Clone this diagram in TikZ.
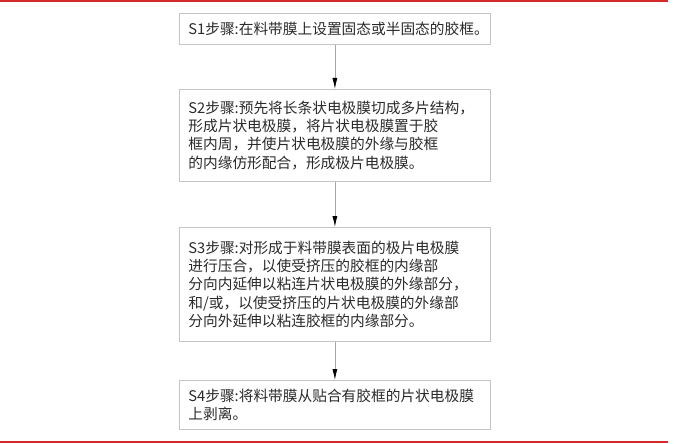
\documentclass[tikz,border=0pt]{standalone}
\usepackage{fontspec}
\newfontfamily\cjk{Noto Sans CJK SC}
\usetikzlibrary{arrows.meta}

\definecolor{barred}{HTML}{D42A2A}
\definecolor{boxline}{HTML}{C4C4C4}
\definecolor{steptext}{HTML}{2A2A2A}

\tikzset{
  stepbox/.style={draw=boxline,line width=0.8pt,anchor=north west,align=left,
                  text width=293pt,inner xsep=9pt,inner ysep=0pt,text=steptext,
                  font=\cjk\fontsize{14.7}{18.3}\selectfont},
  steparrow/.style={draw=black!35,line width=0.8pt,
                    -{Latex[black,length=11pt,width=5pt]}}
}

\begin{document}
\begin{tikzpicture}[x=1pt,y=-1pt]

\useasboundingbox (0,0) rectangle (680,444);

% red bars
\draw[barred,line width=2pt] (0,1) -- (668,1);
\draw[barred,line width=2pt] (0,442) -- (668,442);

                    % 1
                    \node[stepbox,minimum height=31pt] (S1) at (179,13) {S1步骤:在料带膜上设置固态或半固态的胶框。};

                    % 2
                    \node[stepbox,minimum height=92pt] (S2) at (179,89) {S2步骤:预先将长条状电极膜切成多片结构，\\形成片状电极膜，将片状电极膜置于胶\\框内周，并使片状电极膜的外缘与胶框\\的内缘仿形配合，形成极片电极膜。};

                    % 3
                    \node[stepbox,minimum height=114pt] (S3) at (179,227) {S3步骤:对形成于料带膜表面的极片电极膜\\进行压合，以使受挤压的胶框的内缘部\\分向内延伸以粘连片状电极膜的外缘部分，\\和/或，以使受挤压的片状电极膜的外缘部\\分向外延伸以粘连胶框的内缘部分。};

                    % 4
                    \node[stepbox,minimum height=49pt] (S4) at (179,380) {S4步骤:将料带膜从贴合有胶框的片状电极膜\\上剥离。};

                    \path [steparrow] (S1) edge (S2);
                    \path [steparrow] (S2) edge (S3);
                    \path [steparrow] (S3) edge (S4);

%%%%%%%%%%%%%%%%%%%%%%%%%%%%%%%%%%%%%%%%%%%%%%%%%%%%%%%%%%%%%%%%%%%%%%%%%%%%%%%%%%%%

\end{tikzpicture}
\end{document}
